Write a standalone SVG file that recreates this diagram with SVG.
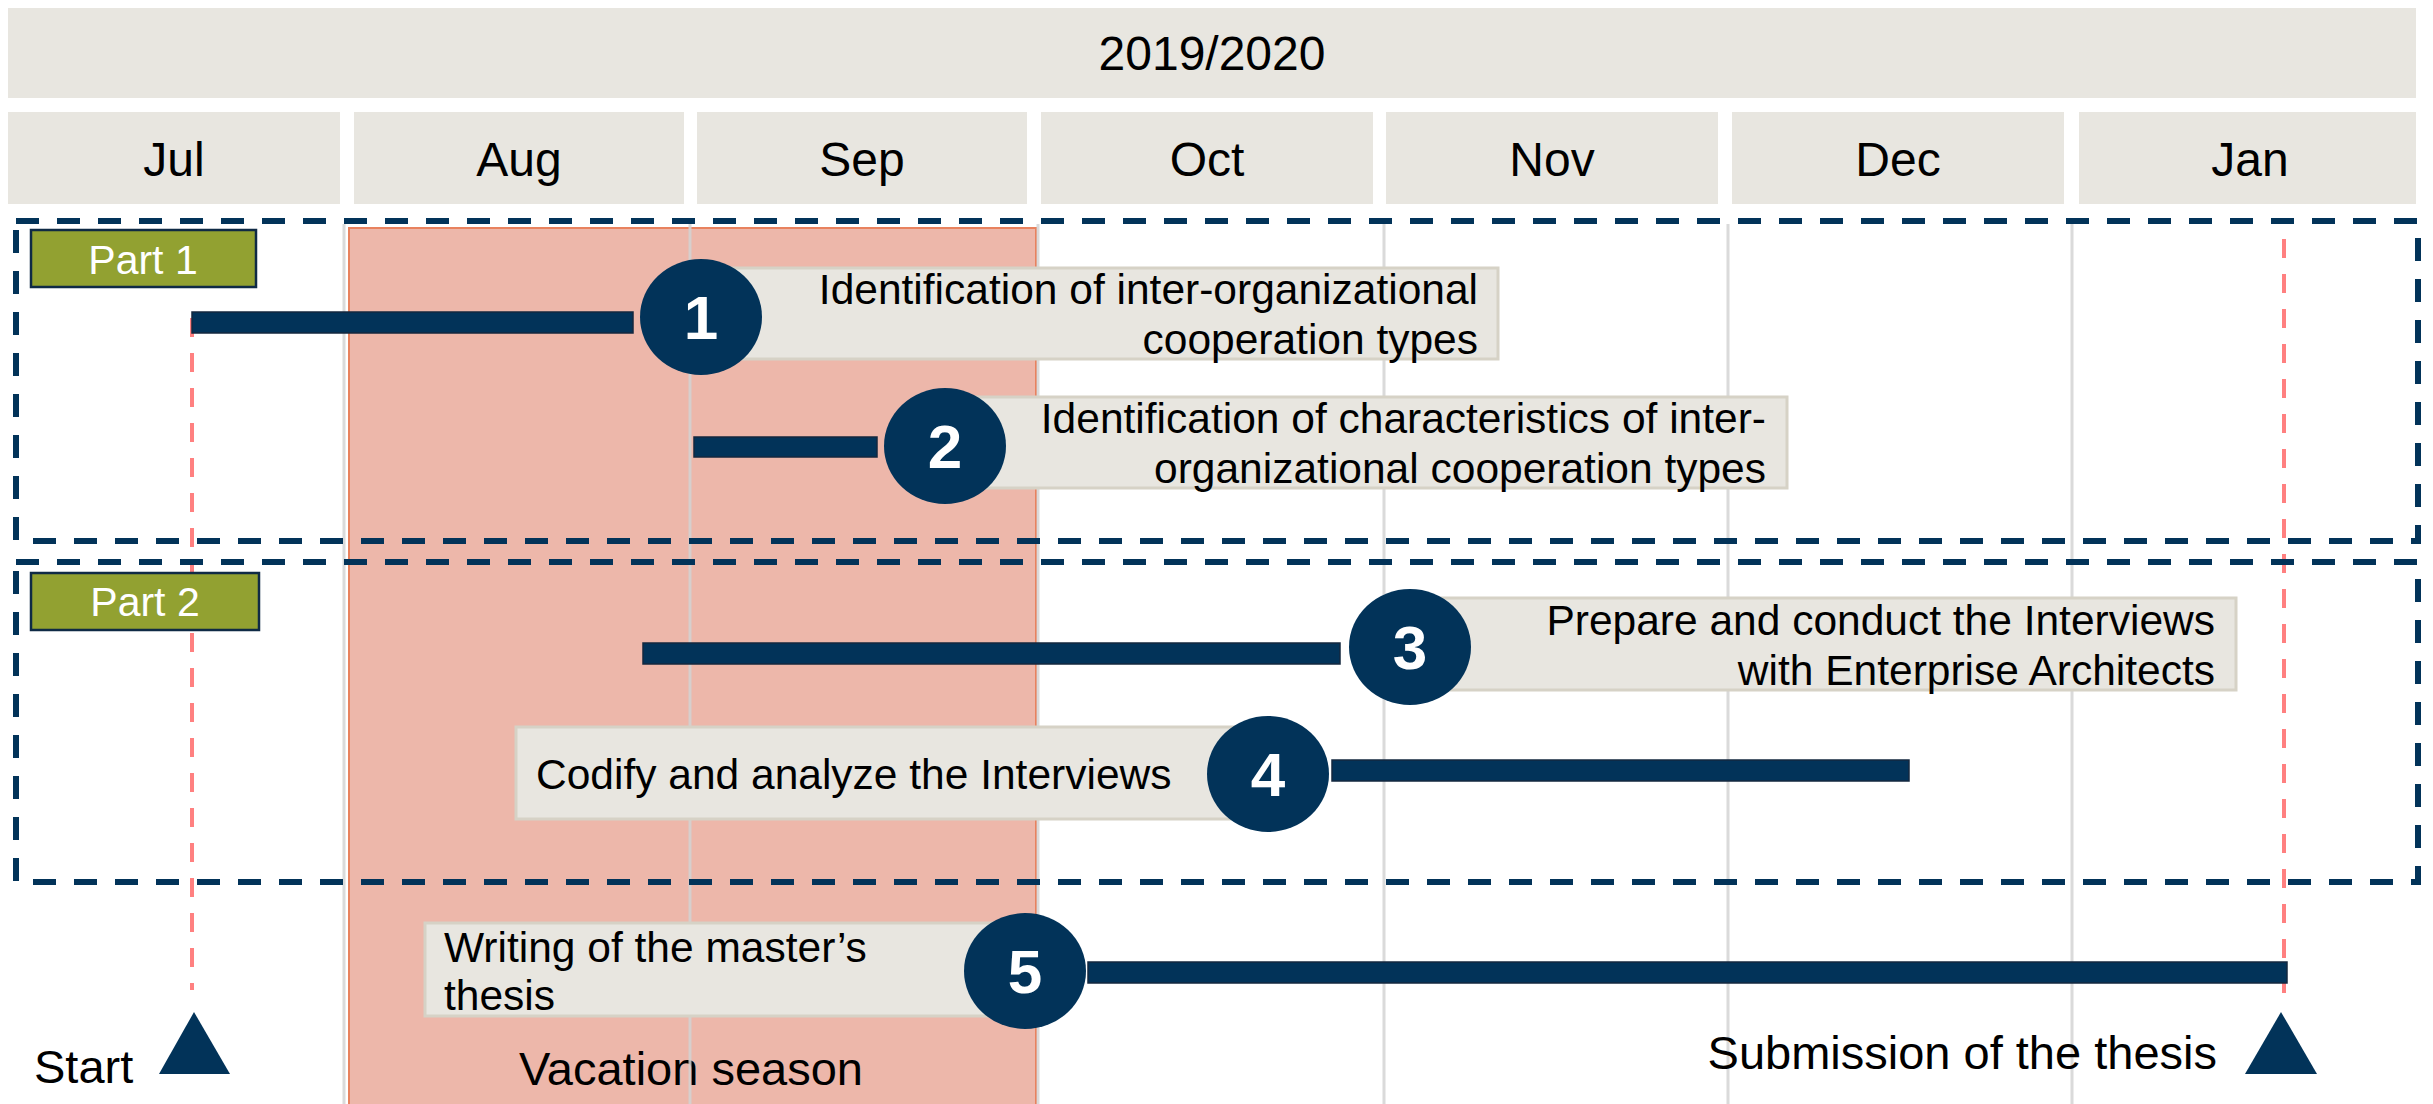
<svg xmlns="http://www.w3.org/2000/svg" width="2433" height="1104" viewBox="0 0 2433 1104">
<style>
.hdr{fill:#E8E6E0}
.ht{font-family:"Liberation Sans",Arial,sans-serif;font-size:48px;fill:#000;text-anchor:middle}
.grid{stroke:#D4D4D4;stroke-width:3;opacity:0.85}
.part{fill:none;stroke:#023359;stroke-width:6;stroke-dasharray:23 18}
.plab{fill:#92A131;stroke:#0F2A45;stroke-width:2.5}
.plt{font-family:"Liberation Sans",Arial,sans-serif;font-size:41px;fill:#fff;text-anchor:middle}
.red{stroke:#FF8080;stroke-width:4;stroke-dasharray:19 16;fill:none}
.bar{fill:#023359;stroke:#14283F;stroke-width:1.5}
.lbox{fill:#E8E6E0;stroke:#D6D2C6;stroke-width:3}
.lt{font-family:"Liberation Sans",Arial,sans-serif;font-size:42.5px;fill:#000}
.circ{fill:#023359}
.num{font-family:"Liberation Sans",Arial,sans-serif;font-size:62px;font-weight:bold;fill:#fff;text-anchor:middle}
.big{font-family:"Liberation Sans",Arial,sans-serif;font-size:47px;fill:#000}
.tri{fill:#023359}
</style>

<g id="header">
  <rect class="hdr" x="8" y="8" width="2408" height="90"/>
  <text class="ht" x="1212" y="70">2019/2020</text>
  <rect class="hdr" x="8" y="112" width="332" height="92"/>
  <text class="ht" x="174" y="176">Jul</text>
  <rect class="hdr" x="354" y="112" width="330" height="92"/>
  <text class="ht" x="519" y="176">Aug</text>
  <rect class="hdr" x="697" y="112" width="330" height="92"/>
  <text class="ht" x="862" y="176">Sep</text>
  <rect class="hdr" x="1041" y="112" width="332" height="92"/>
  <text class="ht" x="1207" y="176">Oct</text>
  <rect class="hdr" x="1386" y="112" width="332" height="92"/>
  <text class="ht" x="1552" y="176">Nov</text>
  <rect class="hdr" x="1732" y="112" width="332" height="92"/>
  <text class="ht" x="1898" y="176">Dec</text>
  <rect class="hdr" x="2079" y="112" width="337" height="92"/>
  <text class="ht" x="2250" y="176">Jan</text>
</g>

<g id="vacation">
  <rect x="349" y="228" width="687" height="880" fill="#EDB7AA" stroke="#E8825E" stroke-width="2"/>
  <text class="big" x="691" y="1085" text-anchor="middle">Vacation season</text>
</g>

<g id="gridlines">
  <line class="grid" x1="344" y1="224" x2="344" y2="1104"/>
  <line class="grid" x1="690" y1="224" x2="690" y2="1104"/>
  <line class="grid" x1="1038" y1="224" x2="1038" y2="1104"/>
  <line class="grid" x1="1384" y1="224" x2="1384" y2="1104"/>
  <line class="grid" x1="1728" y1="224" x2="1728" y2="1104"/>
  <line class="grid" x1="2072" y1="224" x2="2072" y2="1104"/>
</g>

<g id="milestones">
  <line class="red" x1="192" y1="318" x2="192" y2="990"/>
  <line class="red" x1="2284" y1="239" x2="2284" y2="1008"/>
  <polygon class="tri" points="194,1012 230,1074 159,1074"/>
  <text class="big" x="34" y="1083">Start</text>
  <polygon class="tri" points="2281,1012 2317,1074 2245,1074"/>
  <text class="big" x="2217" y="1069" text-anchor="end">Submission of the thesis</text>
</g>

<g id="part1">
  <rect class="part" x="16" y="221" width="2402" height="320"/>
  <rect class="plab" x="31" y="230" width="225" height="57"/>
  <text class="plt" x="143" y="274">Part 1</text>
</g>
<g id="part2">
  <rect class="part" x="16" y="562" width="2402" height="320"/>
  <rect class="plab" x="31" y="573" width="228" height="57"/>
  <text class="plt" x="145" y="616">Part 2</text>
</g>

<g id="connectors">
  <rect class="bar" x="192" y="312" width="441" height="21"/>
  <rect class="bar" x="694" y="437" width="183" height="20"/>
  <rect class="bar" x="643" y="643" width="697" height="21"/>
  <rect class="bar" x="1332" y="760" width="577" height="21"/>
  <rect class="bar" x="1088" y="962" width="1199" height="21"/>
</g>

<g id="task1">
  <rect class="lbox" x="701" y="268" width="797" height="91"/>
  <text class="lt" text-anchor="end"><tspan x="1478" y="304">Identification of inter-organizational</tspan><tspan x="1478" y="354">cooperation types</tspan></text>
  <ellipse class="circ" cx="701" cy="317" rx="61" ry="58"/>
  <text class="num" x="701" y="339">1</text>
</g>
<g id="task2">
  <rect class="lbox" x="945" y="397" width="842" height="91"/>
  <text class="lt" text-anchor="end"><tspan x="1766" y="433">Identification of characteristics of inter-</tspan><tspan x="1766" y="483">organizational cooperation types</tspan></text>
  <ellipse class="circ" cx="945" cy="446" rx="61" ry="58"/>
  <text class="num" x="945" y="468">2</text>
</g>
<g id="task3">
  <rect class="lbox" x="1410" y="598" width="826" height="92"/>
  <text class="lt" text-anchor="end"><tspan x="2215" y="635">Prepare and conduct the Interviews</tspan><tspan x="2215" y="685">with Enterprise Architects</tspan></text>
  <ellipse class="circ" cx="1410" cy="647" rx="61" ry="58"/>
  <text class="num" x="1410" y="669">3</text>
</g>
<g id="task4">
  <rect class="lbox" x="516" y="727" width="752" height="92"/>
  <text class="lt" x="536" y="789">Codify and analyze the Interviews</text>
  <ellipse class="circ" cx="1268" cy="774" rx="61" ry="58"/>
  <text class="num" x="1268" y="796">4</text>
</g>
<g id="task5">
  <rect class="lbox" x="425" y="923" width="600" height="93"/>
  <text class="lt"><tspan x="444" y="962">Writing of the master’s</tspan><tspan x="444" y="1010">thesis</tspan></text>
  <ellipse class="circ" cx="1025" cy="971" rx="61" ry="58"/>
  <text class="num" x="1025" y="993">5</text>
</g>
</svg>
